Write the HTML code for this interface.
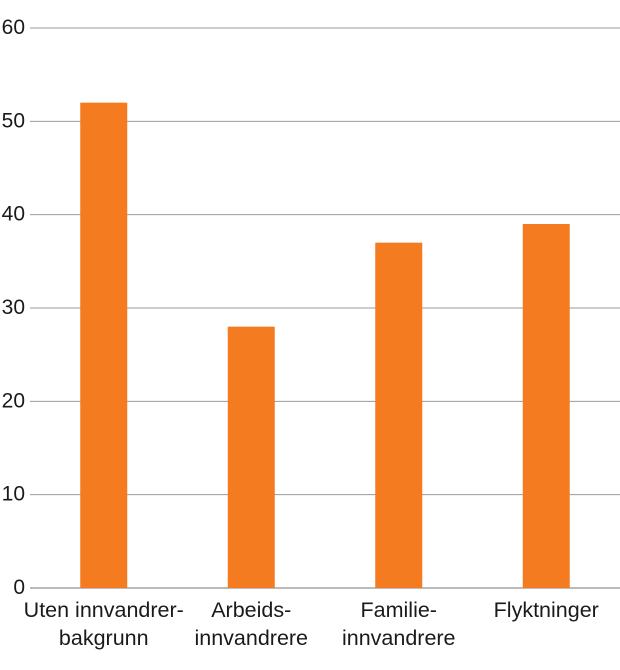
<!DOCTYPE html>
<html><head><meta charset="utf-8"><style>
body{margin:0;background:#fff;font-family:"Liberation Sans",sans-serif}
svg text{font-family:"Liberation Sans",sans-serif;fill:#1a1a1a}
</style></head><body>
<svg width="620" height="665">
<g id="grid"></g><g id="bars"></g><g id="labels"></g>
</svg>
<script>
const categories=[["Uten innvandrer-","bakgrunn"],["Arbeids-","innvandrere"],["Familie-","innvandrere"],["Flyktninger"]];
const values=[52,28,37,39];
const ticks=[0,10,20,30,40,50,60];
const ns="http://www.w3.org/2000/svg";
const x0=30,x1=620,y0=588,y1=28,ymax=60;
const y=v=>y0-(v/ymax)*(y0-y1);
const band=(x1-x0)/categories.length;
const xc=i=>x0+band*(i+0.5);
function mk(t,a,p){const e=document.createElementNS(ns,t);for(const k in a)e.setAttribute(k,a[k]);p.appendChild(e);return e;}
const g=document.getElementById('grid'),b=document.getElementById('bars'),l=document.getElementById('labels');
ticks.forEach(t=>{
 const ln=mk('line',{x1:x0,x2:x1,y1:y(t),y2:y(t),stroke:t===0?'#777':'#999','stroke-width':1},g);
 
 
 const tx=mk('text',{x:25,y:y(t)+6,'font-size':21,'text-anchor':'end'},g);tx.textContent=t;
 
 
});
values.forEach((v,i)=>{
 const r=mk('rect',{x:xc(i)-23.5,y:y(v),width:47,height:y0-y(v),fill:'#f47b20'},b);
 
 
 const tx=mk('text',{x:xc(i),y:617,'font-size':21.5,'text-anchor':'middle'},l);
 
 
 categories[i].forEach((s,j)=>{const ts=mk('tspan',{x:xc(i),dy:j?28:0},tx);ts.textContent=s;});
});
</script>
</body></html>
